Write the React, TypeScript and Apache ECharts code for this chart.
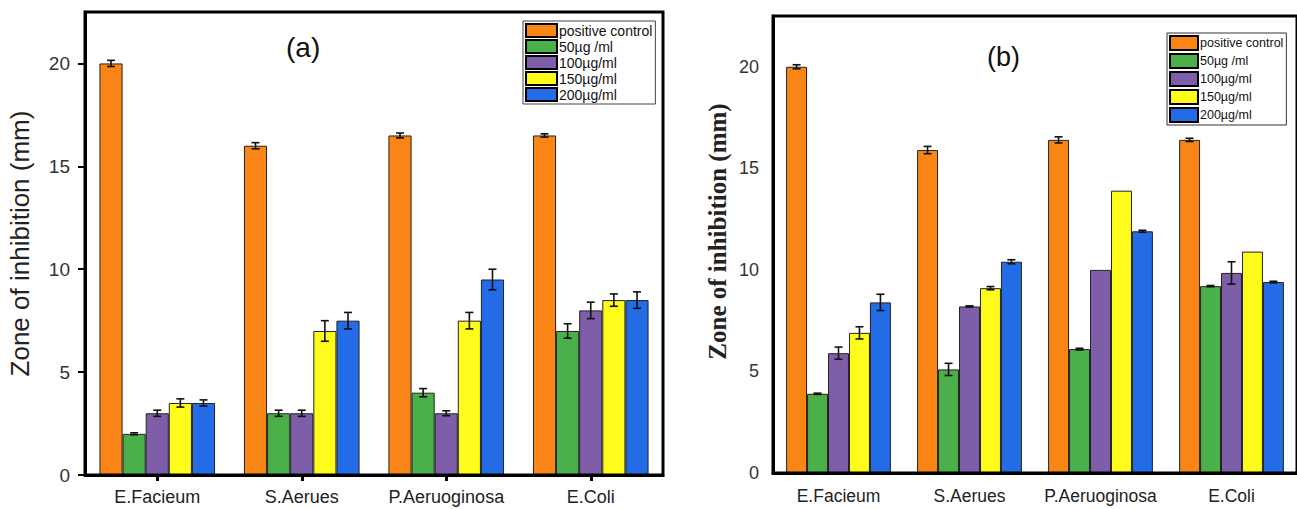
import React, { useEffect, useRef } from "react";
import * as echarts from "echarts";

const categories = ["E.Facieum", "S.Aerues", "P.Aeruoginosa", "E.Coli"];
const seriesNames = ["positive control", "50µg /ml", "100µg/ml", "150µg/ml", "200µg/ml"];
const seriesColors = ["#FA8517", "#4BB04A", "#7E5EA8", "#FFFC1C", "#236CE6"];
const yTicks = [0, 5, 10, 15, 20];

// Panel (a) values and error bars
const aPositive = [20, 16, 16.5, 16.5];
const a50 = [2, 3, 4, 7];
const a100 = [3, 3, 3, 8];
const a150 = [3.5, 7, 7.5, 8.5];
const a200 = [3.5, 7.5, 9.5, 8.5];
const aPositiveErr = [0.15, 0.15, 0.12, 0.08];
const a50Err = [0.05, 0.15, 0.2, 0.35];
const a100Err = [0.15, 0.15, 0.12, 0.4];
const a150Err = [0.2, 0.5, 0.4, 0.3];
const a200Err = [0.15, 0.4, 0.5, 0.4];

// Panel (b) values and error bars
const bPositive = [20, 15.9, 16.4, 16.4];
const b50 = [3.9, 5.1, 6.1, 9.2];
const b100 = [5.9, 8.2, 10, 9.85];
const b150 = [6.9, 9.1, 13.9, 10.9];
const b200 = [8.4, 10.4, 11.9, 9.4];
const bPositiveErr = [0.1, 0.18, 0.15, 0.08];
const b50Err = [0.03, 0.3, 0.04, 0.03];
const b100Err = [0.3, 0.03, 0, 0.55];
const b150Err = [0.3, 0.08, 0, 0];
const b200Err = [0.4, 0.1, 0.05, 0.04];

const aValues = [aPositive, a50, a100, a150, a200];
const aErrors = [aPositiveErr, a50Err, a100Err, a150Err, a200Err];
const bValues = [bPositive, b50, b100, b150, b200];
const bErrors = [bPositiveErr, b50Err, b100Err, b150Err, b200Err];

const SANS = "Liberation Sans, Arial, sans-serif";
const SERIF = "Liberation Serif, Times New Roman, serif";

function buildPanel(idx: number, values: number[][], errors: number[][]) {
  const series: any[] = [];
  values.forEach((vals, si) => {
    series.push({
      type: "bar",
      name: seriesNames[si],
      xAxisIndex: idx,
      yAxisIndex: idx,
      data: vals,
      barGap: "0%",
      barCategoryGap: "20%",
      itemStyle: { color: seriesColors[si], borderColor: "#222", borderWidth: 1 },
    });
  });
  values.forEach((vals, si) => {
    series.push({
      type: "custom",
      name: "err-" + idx + "-" + si,
      xAxisIndex: idx,
      yAxisIndex: idx,
      z: 5,
      silent: true,
      encode: { x: 0, y: 1 },
      data: vals.map((v, ci) => [ci, v, errors[si][ci]]),
      renderItem: (params: any, api: any) => {
        const ci = api.value(0);
        const v = api.value(1);
        const e = api.value(2);
        if (!e) return { type: "group", children: [] };
        const c = api.coord([ci, v]);
        const band = api.size([1, 0])[0];
        const bw = (band * 0.8) / 5;
        const x = c[0] + (si - 2) * bw;
        const yt = api.coord([ci, v + e])[1];
        const yb = api.coord([ci, v - e])[1];
        const cap = 4;
        const st = { stroke: "#111", lineWidth: 1.6 };
        return {
          type: "group",
          children: [
            { type: "line", shape: { x1: x, y1: yt, x2: x, y2: yb }, style: st },
            { type: "line", shape: { x1: x - cap, y1: yt, x2: x + cap, y2: yt }, style: st },
            { type: "line", shape: { x1: x - cap, y1: yb, x2: x + cap, y2: yb }, style: st },
          ],
        };
      },
    });
  });
  return series;
}

export default function App() {
  const ref = useRef<HTMLDivElement>(null);
  useEffect(() => {
    if (!ref.current) return;
    const chart = echarts.init(ref.current, null, { renderer: "svg" });
    const option: any = {
      animation: false,
      backgroundColor: "#fff",
      title: [
        { text: "(a)", left: 281, top: 28, textStyle: { fontFamily: SANS, fontSize: 28, fontWeight: "normal", color: "#111" } },
        { text: "(b)", left: 982, top: 38, textStyle: { fontFamily: SANS, fontSize: 27, fontWeight: "normal", color: "#111" } },
      ],
      legend: [
        {
          data: seriesNames,
          orient: "vertical",
          left: 523,
          top: 21,
          itemWidth: 31,
          itemHeight: 13,
          itemGap: 1,
          padding: [2, 3, 2, 2],
          backgroundColor: "#fff",
          borderColor: "#444",
          borderWidth: 1,
          selectedMode: false,
          icon: "rect",
          itemStyle: { borderColor: "#000", borderWidth: 2 },
          textStyle: { fontFamily: SANS, fontSize: 14, lineHeight: 15, color: "#111", padding: [0, 0, 0, -3] },
        },
        {
          data: seriesNames,
          orient: "vertical",
          left: 1167,
          top: 33,
          itemWidth: 28,
          itemHeight: 14,
          itemGap: 2,
          padding: [2, 3, 2, 2],
          backgroundColor: "#fff",
          borderColor: "#333",
          borderWidth: 1,
          selectedMode: false,
          icon: "rect",
          itemStyle: { borderColor: "#000", borderWidth: 2 },
          textStyle: { fontFamily: SANS, fontSize: 12.5, lineHeight: 15, color: "#111", padding: [0, 0, 0, -3] },
        },
      ],
      grid: [
        { left: 85, top: 12, width: 578, height: 463, show: true, borderColor: "#000", borderWidth: 3, backgroundColor: "transparent", z: 3 },
        { left: 773, top: 16, width: 528, height: 457, show: true, borderColor: "#000", borderWidth: 3, backgroundColor: "transparent", z: 3 },
      ],
      xAxis: [
        {
          type: "category",
          gridIndex: 0,
          data: categories,
          axisLine: { show: true, lineStyle: { color: "#000", width: 3 } },
          axisTick: { show: true, alignWithLabel: true, length: 6, lineStyle: { color: "#000", width: 3 } },
          axisLabel: { interval: 0, fontFamily: SANS, fontSize: 18, color: "#222", margin: 13 },
        },
        {
          type: "category",
          gridIndex: 1,
          data: categories,
          axisLine: { show: true, lineStyle: { color: "#000", width: 3 } },
          axisTick: { show: false },
          axisLabel: { interval: 0, fontFamily: SANS, fontSize: 17.5, color: "#222", margin: 14 },
        },
      ],
      yAxis: [
        {
          type: "value",
          gridIndex: 0,
          min: 0,
          max: 22.5,
          interval: 5,
          splitLine: { show: false },
          axisLine: { show: true, lineStyle: { color: "#000", width: 3 } },
          axisTick: { show: true, length: 7, customValues: yTicks, lineStyle: { color: "#000", width: 2 } },
          axisLabel: { fontFamily: SANS, fontSize: 19, color: "#333", margin: 15, customValues: yTicks },
          name: "Zone of inhibition (mm)",
          nameLocation: "middle",
          nameGap: 52,
          nameTextStyle: { fontFamily: SANS, fontSize: 26, color: "#222" },
        },
        {
          type: "value",
          gridIndex: 1,
          min: 0,
          max: 22.5,
          interval: 5,
          splitLine: { show: false },
          axisLine: { show: true, lineStyle: { color: "#000", width: 3 } },
          axisTick: { show: false, customValues: yTicks },
          axisLabel: { fontFamily: SANS, fontSize: 18, color: "#333", margin: 14, customValues: yTicks },
          name: "Zone of inhibition (mm)",
          nameLocation: "middle",
          nameGap: 43,
          nameTextStyle: { fontFamily: SERIF, fontSize: 25, fontWeight: "bold", color: "#222", padding: [0, 0, 0, 26] },
        },
      ],
      series: [...buildPanel(0, aValues, aErrors), ...buildPanel(1, bValues, bErrors)],
    };
    chart.setOption(option);
    return () => chart.dispose();
  }, []);
  return (
    <div
      ref={ref}
      style={{ position: "absolute", left: 0, top: 0, width: 1297, height: 509, overflow: "hidden" }}
    />
  );
}
